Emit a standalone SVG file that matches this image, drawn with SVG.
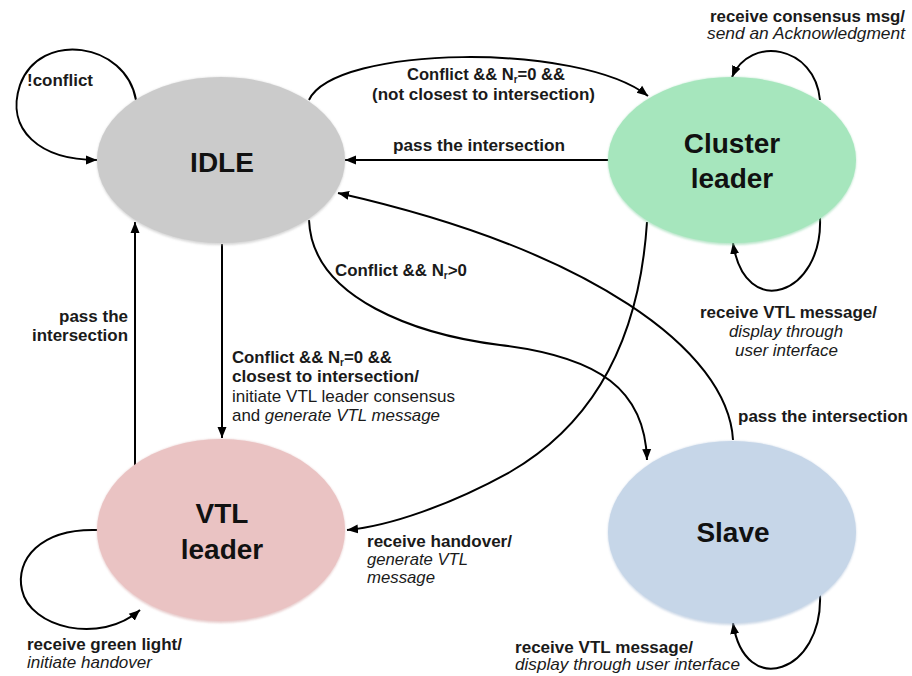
<svg xmlns="http://www.w3.org/2000/svg" width="912" height="676" viewBox="0 0 912 676">
<defs>
<marker id="arr" markerUnits="userSpaceOnUse" markerWidth="12" markerHeight="12" viewBox="0 0 12 12" refX="11" refY="6" orient="auto">
<path d="M0,1.5 L11,6 L0,10.5 Z" fill="#000"/>
</marker>
<filter id="sh" x="-10%" y="-10%" width="120%" height="120%"><feGaussianBlur stdDeviation="1.2"/></filter>
</defs>
<style>
.node{font-family:"Liberation Sans",Arial,sans-serif;font-weight:bold;font-size:28px;fill:#111;text-anchor:middle}
.lbl{font-family:"Liberation Sans",Arial,sans-serif;font-size:17px;fill:#1a1a1a}
.b{font-weight:bold}
.i{font-style:italic}
.sub{font-size:10px}
.edge{fill:none;stroke:#000;stroke-width:2;marker-end:url(#arr)}
</style>
<rect width="912" height="676" fill="#fff"/>

<g id="connectors">
<path id="e-idle-self" class="edge" d="M136,100 C126,42 40,30 20,85 C5,130 40,160 97,160"/>
<path id="e-idle-cluster" class="edge" d="M309,100 C335,45 580,42 648,96"/>
<path id="e-cluster-idle" class="edge" d="M609,160 L345,160"/>
<path id="e-idle-slave" class="edge" d="M309,220 C312,300 420,335 500,345 C600,357 645,390 647,460"/>
<path id="e-slave-idle" class="edge" d="M733,440 C728,350 590,250 338,193"/>
<path id="e-cluster-vtl" class="edge" d="M647,222 C640,330 600,420 510,472 C450,505 390,526 347,530"/>
<path id="e-idle-vtl" class="edge" d="M222,244 L222,438"/>
<path id="e-vtl-idle" class="edge" d="M135,466 L135,222"/>
<path id="e-vtl-self" class="edge" d="M98,530 C40,528 15,560 22,590 C30,628 100,645 140,610"/>
<path id="e-cluster-self-top" class="edge" d="M820,100 C815,45 750,35 732,77"/>
<path id="e-cluster-self-bot" class="edge" d="M820,218 C823,295 745,322 733,243"/>
<path id="e-slave-self" class="edge" d="M820,595 C823,672 745,700 733,623"/>
</g>

<g id="labels">
<text class="lbl b" x="27" y="86" textLength="66" lengthAdjust="spacingAndGlyphs">!conflict</text>
<text class="lbl b" x="407" y="80" textLength="158" lengthAdjust="spacingAndGlyphs">Conflict &amp;&amp; N<tspan class="sub" dy="3">r</tspan><tspan dy="-3">=0 &amp;&amp;</tspan></text>
<text class="lbl b" x="372" y="100" textLength="223" lengthAdjust="spacingAndGlyphs">(not closest to intersection)</text>
<text class="lbl b" x="393" y="151" textLength="172" lengthAdjust="spacingAndGlyphs">pass the intersection</text>
<text class="lbl b" x="335" y="276" textLength="132" lengthAdjust="spacingAndGlyphs">Conflict &amp;&amp; N<tspan class="sub" dy="3">r</tspan><tspan dy="-3">&gt;0</tspan></text>
<text class="lbl b" x="59" y="322" textLength="69" lengthAdjust="spacingAndGlyphs">pass the</text>
<text class="lbl b" x="32" y="341" textLength="96" lengthAdjust="spacingAndGlyphs">intersection</text>
<text class="lbl b" x="232" y="363" textLength="160" lengthAdjust="spacingAndGlyphs">Conflict &amp;&amp; N<tspan class="sub" dy="3">r</tspan><tspan dy="-3">=0 &amp;&amp;</tspan></text>
<text class="lbl b" x="232" y="382" textLength="187" lengthAdjust="spacingAndGlyphs">closest to intersection/</text>
<text class="lbl" x="232" y="402" textLength="223" lengthAdjust="spacingAndGlyphs">initiate VTL leader consensus</text>
<text class="lbl" x="232" y="421" textLength="208" lengthAdjust="spacingAndGlyphs">and <tspan class="i">generate VTL message</tspan></text>
<text class="lbl b" x="710" y="22" textLength="195" lengthAdjust="spacingAndGlyphs">receive consensus msg/</text>
<text class="lbl i" x="707" y="39" textLength="198" lengthAdjust="spacingAndGlyphs">send an Acknowledgment</text>
<text class="lbl b" x="700" y="318" textLength="177" lengthAdjust="spacingAndGlyphs">receive VTL message/</text>
<text class="lbl i" x="729" y="337" textLength="114" lengthAdjust="spacingAndGlyphs">display through</text>
<text class="lbl i" x="735" y="356" textLength="103" lengthAdjust="spacingAndGlyphs">user interface</text>
<text class="lbl b" x="738" y="422" textLength="170" lengthAdjust="spacingAndGlyphs">pass the intersection</text>
<text class="lbl b" x="367" y="547" textLength="145" lengthAdjust="spacingAndGlyphs">receive handover/</text>
<text class="lbl i" x="367" y="565" textLength="101" lengthAdjust="spacingAndGlyphs">generate VTL</text>
<text class="lbl i" x="367" y="583" textLength="68" lengthAdjust="spacingAndGlyphs">message</text>
<text class="lbl b" x="27" y="650" textLength="155" lengthAdjust="spacingAndGlyphs">receive green light/</text>
<text class="lbl i" x="27" y="668" textLength="125" lengthAdjust="spacingAndGlyphs">initiate handover</text>
<text class="lbl b" x="515" y="653" textLength="178" lengthAdjust="spacingAndGlyphs">receive VTL message/</text>
<text class="lbl i" x="515" y="670" textLength="225" lengthAdjust="spacingAndGlyphs">display through user interface</text>
</g>

<g id="node-idle">
<ellipse cx="221" cy="161" rx="124" ry="84" fill="#bdbdbd" filter="url(#sh)" opacity="0.6"/>
<ellipse cx="221" cy="160" rx="124" ry="83" fill="#cbcbcb"/>
<text class="node" x="222" y="172" font-size="30">IDLE</text>
</g>
<g id="node-cluster">
<ellipse cx="732" cy="161" rx="124" ry="84" fill="#8fd6aa" filter="url(#sh)" opacity="0.6"/>
<ellipse cx="732" cy="160" rx="124" ry="83" fill="#a6e6bd"/>
<text class="node" x="732" y="153">Cluster</text>
<text class="node" x="732" y="188">leader</text>
</g>
<g id="node-vtl">
<ellipse cx="221" cy="531" rx="124" ry="92" fill="#d9aaaa" filter="url(#sh)" opacity="0.6"/>
<ellipse cx="221" cy="530" rx="124" ry="91" fill="#eac3c3"/>
<text class="node" x="222" y="523">VTL</text>
<text class="node" x="222" y="559">leader</text>
</g>
<g id="node-slave">
<ellipse cx="732" cy="533" rx="124" ry="92" fill="#aabfd8" filter="url(#sh)" opacity="0.6"/>
<ellipse cx="732" cy="532" rx="124" ry="91" fill="#c6d6e8"/>
<text class="node" x="733" y="542">Slave</text>
</g>
</svg>
